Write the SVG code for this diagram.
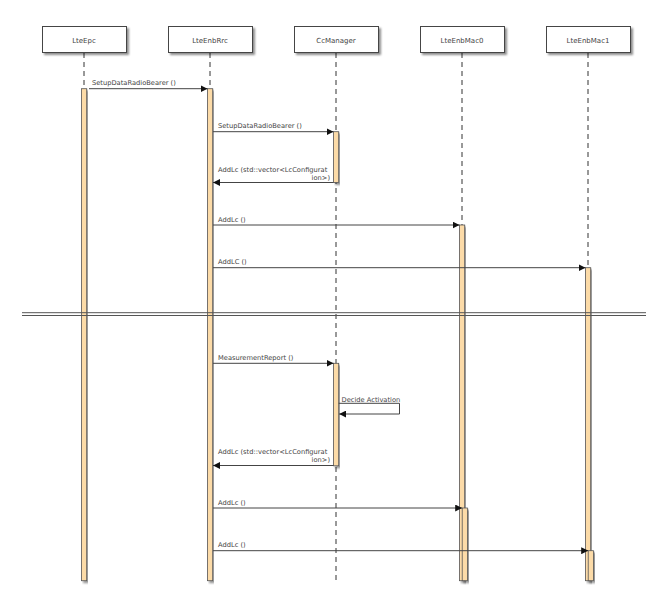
<svg xmlns="http://www.w3.org/2000/svg" width="672" height="599" viewBox="0 0 672 599">
<defs>
<filter id="sh" x="-10%" y="-10%" width="130%" height="140%">
<feGaussianBlur in="SourceAlpha" stdDeviation="1"/>
<feOffset dx="2" dy="2" result="o"/>
<feComponentTransfer><feFuncA type="linear" slope="0.45"/></feComponentTransfer>
<feMerge><feMergeNode/><feMergeNode in="SourceGraphic"/></feMerge>
</filter>
<marker id="ah" viewBox="0 0 10 10" refX="10" refY="5" markerWidth="7" markerHeight="7" markerUnits="userSpaceOnUse" orient="auto">
<path d="M0,0 L10,5 L0,10 z" fill="#111"/>
</marker>
</defs>
<style>
.box{fill:#fff;stroke:#444;stroke-width:1}
.hd{font-family:"DejaVu Sans",sans-serif;font-size:7px;fill:#444;text-anchor:middle}
.life{stroke:#333;stroke-width:1;stroke-dasharray:5,4;fill:none}
.bar{fill:#fcdba8;stroke:#555;stroke-width:0.8}
.msg{stroke:#444;stroke-width:1;fill:none;marker-end:url(#ah)}
.lb{font-family:"DejaVu Sans",sans-serif;font-size:6.7px;fill:#444}
.sep{stroke:#555;stroke-width:1}
</style>
<rect width="672" height="599" fill="#fff"/>

<g id="lifelines">
<line class="life" x1="84" y1="53" x2="84" y2="584"/>
<line class="life" x1="210" y1="53" x2="210" y2="584"/>
<line class="life" x1="336" y1="53" x2="336" y2="584"/>
<line class="life" x1="462" y1="53" x2="462" y2="584"/>
<line class="life" x1="588" y1="53" x2="588" y2="584"/>
</g>

<g id="LteEpc">
<rect class="box" x="42.5" y="26.5" width="84" height="26" filter="url(#sh)"/>
<text class="hd" x="84" y="43">LteEpc</text>
</g>
<g id="LteEnbRrc">
<rect class="box" x="168.5" y="26.5" width="84" height="26" filter="url(#sh)"/>
<text class="hd" x="210" y="43">LteEnbRrc</text>
</g>
<g id="CcManager">
<rect class="box" x="294.5" y="26.5" width="84" height="26" filter="url(#sh)"/>
<text class="hd" x="336" y="43">CcManager</text>
</g>
<g id="LteEnbMac0">
<rect class="box" x="420.5" y="26.5" width="84" height="26" filter="url(#sh)"/>
<text class="hd" x="462" y="43">LteEnbMac0</text>
</g>
<g id="LteEnbMac1">
<rect class="box" x="546.5" y="26.5" width="84" height="26" filter="url(#sh)"/>
<text class="hd" x="588" y="43">LteEnbMac1</text>
</g>

<g id="activations">
<rect class="bar" x="81.5" y="88.7" width="5.2" height="492" filter="url(#sh)"/>
<rect class="bar" x="207.5" y="88.7" width="5.2" height="492" filter="url(#sh)"/>
<rect class="bar" x="333.5" y="131.7" width="5.2" height="50.8" filter="url(#sh)"/>
<rect class="bar" x="459.5" y="225" width="5.2" height="355.7" filter="url(#sh)"/>
<rect class="bar" x="585.5" y="267.7" width="5.2" height="313" filter="url(#sh)"/>
<rect class="bar" x="333.5" y="363.3" width="5.2" height="102.5" filter="url(#sh)"/>
<rect class="bar" x="462.2" y="508" width="5.2" height="72.7" filter="url(#sh)"/>
<rect class="bar" x="588.2" y="550.7" width="5.2" height="30" filter="url(#sh)"/>
</g>

<g id="separator">
<line class="sep" x1="22" y1="312.7" x2="646" y2="312.7"/>
<line class="sep" x1="22" y1="315.5" x2="646" y2="315.5"/>
</g>

<g id="connectors">
<line class="msg" x1="89" y1="88.7" x2="207.5" y2="88.7"/>
<text class="lb" x="92" y="85">SetupDataRadioBearer ()</text>

<line class="msg" x1="213" y1="131.7" x2="333.5" y2="131.7"/>
<text class="lb" x="218" y="128">SetupDataRadioBearer ()</text>

<line class="msg" x1="333.5" y1="182.5" x2="213" y2="182.5"/>
<text class="lb" x="218" y="172">AddLc (std::vector&lt;LcConfigurat</text>
<text class="lb" x="330" y="180" text-anchor="end">ion&gt;)</text>

<line class="msg" x1="213" y1="225" x2="459.5" y2="225"/>
<text class="lb" x="218" y="221.5">AddLc ()</text>

<line class="msg" x1="213" y1="267.7" x2="585.5" y2="267.7"/>
<text class="lb" x="218" y="264">AddLC ()</text>

<line class="msg" x1="213" y1="363.3" x2="333.5" y2="363.3"/>
<text class="lb" x="218" y="359.7">MeasurementReport ()</text>

<path class="msg" d="M338.7,403.3 L399.5,403.3 L399.5,414 L339.2,414"/>
<text class="lb" x="341.5" y="402.3">Decide Activation</text>

<line class="msg" x1="333.5" y1="465.5" x2="213" y2="465.5"/>
<text class="lb" x="218" y="454">AddLc (std::vector&lt;LcConfigurat</text>
<text class="lb" x="330" y="462" text-anchor="end">ion&gt;)</text>

<line class="msg" x1="213" y1="508" x2="462.2" y2="508"/>
<text class="lb" x="218" y="504.5">AddLc ()</text>

<line class="msg" x1="213" y1="550.7" x2="588.2" y2="550.7"/>
<text class="lb" x="218" y="547">AddLc ()</text>
</g>
</svg>
